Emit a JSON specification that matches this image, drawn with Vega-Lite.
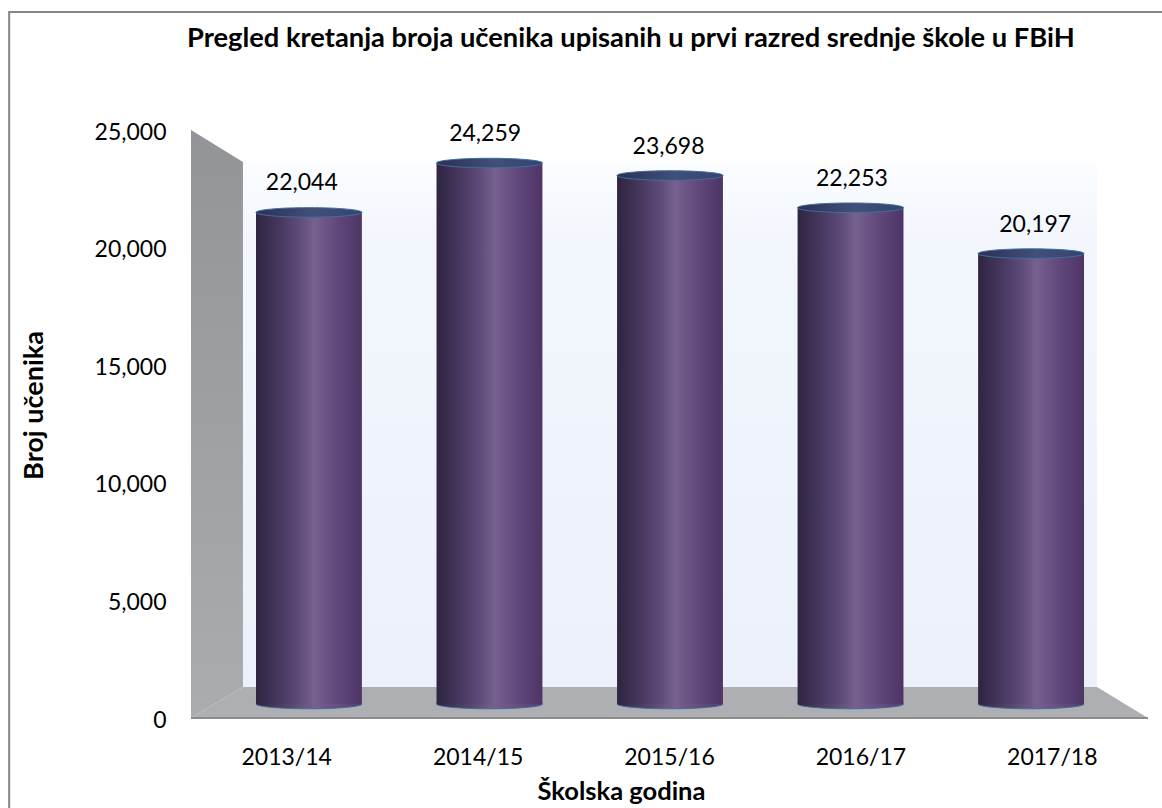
{
"$schema":"https://vega.github.io/schema/vega-lite/v6.json",
"width":1162,"height":808,"autosize":{"type":"none"},"padding":0,"background":"white",
"config":{"view":{"stroke":null},"font":"Lato"},
"title":{"text":"Pregled kretanja broja učenika upisanih u prvi razred srednje škole u FBiH","font":"Lato","fontSize":27.3,"fontWeight":"bold","color":"black","anchor":"start","frame":"group","offset":0,"dx":187,"dy":74,"baseline":"alphabetic"},
"datasets":{
"years":[{"year":"2013/14","students":22044},{"year":"2014/15","students":24259},{"year":"2015/16","students":23698},{"year":"2016/17","students":22253},{"year":"2017/18","students":20197}],
"leftWall":[{"depth":0,"top":25000,"bottom":0},{"depth":5.43,"top":23640,"bottom":1318}],
"floor":[{"depth":0,"top":0},{"depth":5.43,"top":1318},{"depth":94.67,"top":1318},{"depth":100,"top":0}]
},
"layer":[
{"data":{"values":[{"a":-19,"b":130,"t":30017,"u":-5000}]},"mark":{"type":"rect","fillOpacity":0,"stroke":"#858585","strokeWidth":2},
 "encoding":{"x":{"field":"a","type":"quantitative","scale":{"domain":[0,100],"range":[191,1148]},"axis":null},"x2":{"field":"b"},"y":{"field":"t","type":"quantitative","scale":{"domain":[0,25000],"range":[718,130],"nice":false},"axis":{"orient":"left","offset":-191,"values":[0,5000,10000,15000,20000,25000],"labelExpr":"format(datum.value, ',')","domain":false,"ticks":false,"grid":false,"labelFont":"Lato","labelFontSize":23,"labelColor":"black","labelPadding":25,"labelOffset":2,"title":"Broj učenika","titleFont":"Lato","titleFontSize":27,"titleFontWeight":"bold","titleColor":"black","titleX":-157,"titleY":405,"titleAngle":-90,"titleAlign":"center","titleBaseline":"middle"}},"y2":{"field":"u"}}},
{"data":{"values":[{"a":5.43,"b":94.67,"t":23640,"u":1318}]},"mark":{"type":"rect","fill":{"x1":0,"y1":0,"x2":0,"y2":1,"gradient":"linear","stops":[{"offset":0,"color":"#fbfdff"},{"offset":0.12,"color":"#f3f7fd"},{"offset":1,"color":"#ebf0fa"}]}},
 "encoding":{"x":{"field":"a","type":"quantitative","scale":{"domain":[0,100],"range":[191,1148]},"axis":null},"x2":{"field":"b"},"y":{"field":"t","type":"quantitative","scale":{"domain":[0,25000],"range":[718,130],"nice":false},"axis":null},"y2":{"field":"u"}}},
{"data":{"name":"leftWall"},"mark":{"type":"area","orient":"vertical","fill":{"x1":0,"y1":0,"x2":0,"y2":1,"gradient":"linear","stops":[{"offset":0,"color":"#939498"},{"offset":1,"color":"#abacaf"}]}},
 "encoding":{"x":{"field":"depth","type":"quantitative","scale":{"domain":[0,100],"range":[191,1148]},"axis":null},"y":{"field":"top","type":"quantitative","stack":null,"scale":{"domain":[0,25000],"range":[718,130],"nice":false},"axis":null},"y2":{"field":"bottom"}}},
{"data":{"name":"floor"},"mark":{"type":"area","orient":"vertical","fill":"#aeafb2"},
 "encoding":{"x":{"field":"depth","type":"quantitative","scale":{"domain":[0,100],"range":[191,1148]},"axis":null},"y":{"field":"top","type":"quantitative","stack":null,"scale":{"domain":[0,25000],"range":[718,130],"nice":false},"axis":null},"y2":{"datum":0}}},
{"data":{"values":[{"a":0,"b":100,"t":0}]},"mark":{"type":"rule","stroke":"#8c8c8c","strokeWidth":2},
 "encoding":{"x":{"field":"a","type":"quantitative","scale":{"domain":[0,100],"range":[191,1148]},"axis":null},"x2":{"field":"b"},"y":{"field":"t","type":"quantitative","scale":{"domain":[0,25000],"range":[718,130],"nice":false},"axis":null}}},
{"data":{"name":"years"},"mark":{"type":"point","opacity":0,"size":1},
 "encoding":{"x":{"field":"year","type":"nominal","scale":{"type":"band","domain":["2013/14","2014/15","2015/16","2016/17","2017/18"],"range":[191,1148],"paddingInner":0,"paddingOuter":0},"axis":{"orient":"bottom","offset":-90,"domain":false,"ticks":false,"grid":false,"labelAngle":0,"labelFont":"Lato","labelFontSize":23,"labelColor":"black","labelPadding":28,"title":"Školska godina","titleFont":"Lato","titleFontSize":25.5,"titleFontWeight":"bold","titleColor":"black","titleX":621,"titleY":73,"titleAlign":"center","titleBaseline":"middle"}},"y":{"datum":0,"type":"quantitative","scale":{"domain":[0,25000],"range":[718,130],"nice":false},"axis":null}}},
{"data":{"name":"years"},"mark":{"type":"point","filled":true,"opacity":1,"shape":"M-1,0A1,0.09 0 1,1 1,0A1,0.09 0 1,1 -1,0Z","size":11236,"stroke":"#3f6f9e","strokeWidth":1,"fill":{"x1":0,"y1":0,"x2":1,"y2":0,"gradient":"linear","stops":[{"offset":0,"color":"#2e2540"},{"offset":0.55,"color":"#75608f"},{"offset":1,"color":"#573b6e"}]}},
 "encoding":{"x":{"field":"year","type":"nominal","scale":{"type":"band","domain":["2013/14","2014/15","2015/16","2016/17","2017/18"],"range":[256,1084],"paddingInner":0.4135,"paddingOuter":0},"axis":null},"y":{"datum":0,"type":"quantitative","scale":{"domain":[0,25000],"range":[704,146.5],"nice":false},"axis":null}}},
{"data":{"name":"years"},"mark":{"type":"bar","fill":{"x1":0,"y1":0,"x2":1,"y2":0,"gradient":"linear","stops":[{"offset":0,"color":"#2e2540"},{"offset":0.18,"color":"#43345a"},{"offset":0.4,"color":"#5c4a78"},{"offset":0.55,"color":"#76618f"},{"offset":0.8,"color":"#5e4478"},{"offset":1,"color":"#4e3566"}]}},
 "encoding":{"x":{"field":"year","type":"nominal","scale":{"type":"band","domain":["2013/14","2014/15","2015/16","2016/17","2017/18"],"range":[256,1084],"paddingInner":0.4135,"paddingOuter":0},"axis":null},
 "y":{"field":"students","type":"quantitative","stack":null,"scale":{"domain":[0,25000],"range":[704,146.5],"nice":false},"axis":null},"y2":{"datum":0}}},
{"data":{"name":"years"},"mark":{"type":"point","filled":true,"opacity":1,"shape":"M-1,0A1,0.09 0 1,1 1,0A1,0.09 0 1,1 -1,0Z","size":11236,"stroke":"#3f6f9e","strokeWidth":1,"fill":{"x1":0,"y1":0,"x2":1,"y2":0,"gradient":"linear","stops":[{"offset":0,"color":"#2d2f55"},{"offset":0.55,"color":"#41507a"},{"offset":1,"color":"#35446f"}]}},
 "encoding":{"x":{"field":"year","type":"nominal","scale":{"type":"band","domain":["2013/14","2014/15","2015/16","2016/17","2017/18"],"range":[256,1084],"paddingInner":0.4135,"paddingOuter":0},"axis":null},"y":{"field":"students","type":"quantitative","scale":{"domain":[0,25000],"range":[704,146.5],"nice":false},"axis":null}}},
{"data":{"name":"years"},"mark":{"type":"text","font":"Lato","fontSize":23,"color":"black","dy":-29,"baseline":"middle","align":"center"},
 "encoding":{"x":{"field":"year","type":"nominal","scale":{"type":"band","domain":["2013/14","2014/15","2015/16","2016/17","2017/18"],"range":[248,1089],"paddingInner":0.4135,"paddingOuter":0},"axis":null},"y":{"field":"students","type":"quantitative","scale":{"domain":[0,25000],"range":[704,146.5],"nice":false},"axis":null},"text":{"field":"students","type":"quantitative","format":","}}}
],
"resolve":{"scale":{"x":"independent","y":"independent"},"axis":{"x":"independent","y":"independent"}}
}
